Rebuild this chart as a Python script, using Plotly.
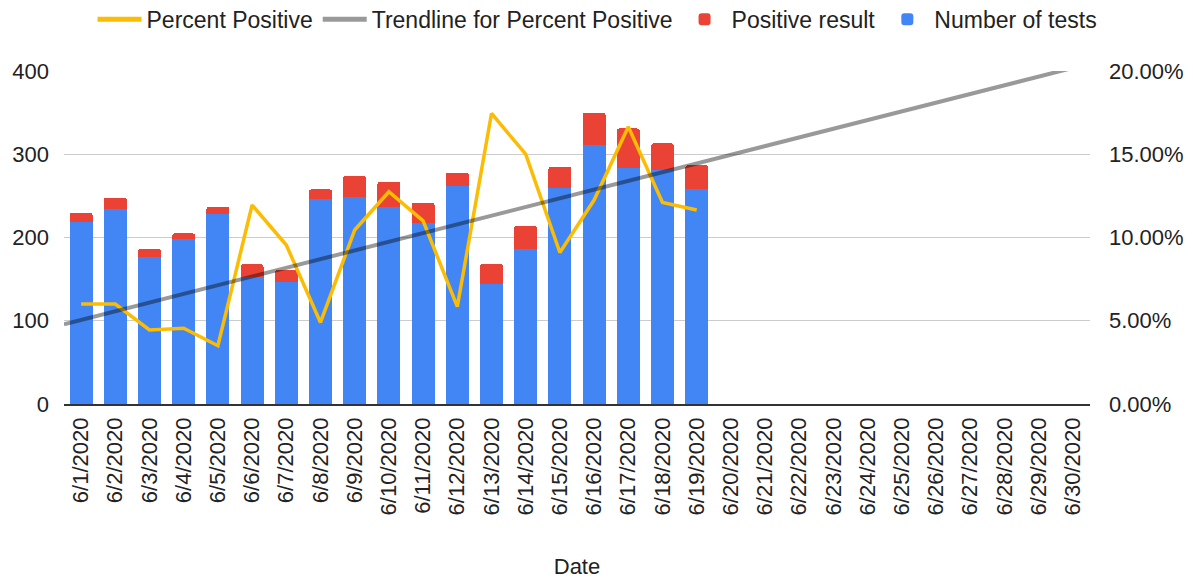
import numpy as np
import plotly.graph_objects as go

dates = [f"6/{d}/2020" for d in range(1, 31)]
tests = [219, 234, 177, 198, 228, 152, 147, 246, 249, 237, 218, 262, 144, 186, 260, 311, 283, 281, 258]
positives = [11, 14, 9, 7, 9, 16, 14, 12, 25, 30, 24, 16, 24, 28, 25, 39, 48, 32, 29]
pct_positive = [0.060, 0.060, 0.0445, 0.0455, 0.035, 0.1195, 0.0955, 0.049, 0.1045, 0.1275,
                0.110, 0.0585, 0.1745, 0.150, 0.091, 0.1225, 0.1665, 0.121, 0.1165]

left_ticks = [0, 100, 200, 300, 400]
right_ticks = [0, 0.05, 0.10, 0.15, 0.20]

n_data = len(tests)
idx = np.arange(n_data)
slope, intercept = np.polyfit(idx, pct_positive, 1)
trend_x = np.array([-0.5, len(dates) - 0.5])
trend_y = slope * trend_x + intercept

FONT = "Liberation Sans, Arial, sans-serif"
FS = 22
fig = go.Figure()

fig.add_trace(go.Bar(x=dates[:n_data], y=tests, name="Number of tests",
                     marker=dict(color="#4285F4", line=dict(width=0)), legendrank=4))
fig.add_trace(go.Bar(x=dates[:n_data], y=positives, name="Positive result",
                     marker=dict(color="#EA4335", line=dict(width=0)), legendrank=3))
fig.add_trace(go.Scatter(x=dates[:n_data], y=pct_positive, name="Percent Positive",
                         mode="lines", line=dict(color="#FBBC04", width=3.5),
                         yaxis="y2", legendrank=1))
fig.add_trace(go.Scatter(x=trend_x, y=trend_y, name="Trendline for Percent Positive",
                         mode="lines", line=dict(color="rgba(0,0,0,0.4)", width=4),
                         xaxis="x2", yaxis="y2", legendrank=2))

fig.update_layout(
    width=1185, height=571,
    margin=dict(l=56, r=103, t=63, b=175, autoexpand=False),
    paper_bgcolor="white", plot_bgcolor="white",
    font=dict(family=FONT, size=FS, color="#222222"),
    barmode="stack", bargap=0.33, barcornerradius=3,
    showlegend=True,
    legend=dict(orientation="h", x=0.52, xanchor="center", y=1.155, yanchor="middle",
                font=dict(size=23, color="#222222"), traceorder="normal",
                itemsizing="constant", itemwidth=44),
    xaxis=dict(type="category", categoryorder="array", categoryarray=dates,
               range=[-0.5, len(dates) - 0.5], tickangle=-90, automargin=False,
               showgrid=False, showline=True, linecolor="#333333", linewidth=1.5,
               ticks="", ticklabelstandoff=3,
               title=dict(text="Date", font=dict(size=FS), standoff=45)),
    xaxis2=dict(overlaying="x", range=[-0.5, len(dates) - 0.5], visible=False),
    yaxis=dict(range=[0, 400], tickvals=left_ticks, showgrid=True, gridcolor="#cccccc",
               gridwidth=1, zeroline=False, ticks="", ticklabelstandoff=14,
               automargin=False),
    yaxis2=dict(overlaying="y", side="right", range=[0, 0.2], tickvals=right_ticks,
                tickformat=".2%", showgrid=False, zeroline=False, ticks="",
                ticklabelstandoff=18, automargin=False),
)

fig.write_html("out.html")
